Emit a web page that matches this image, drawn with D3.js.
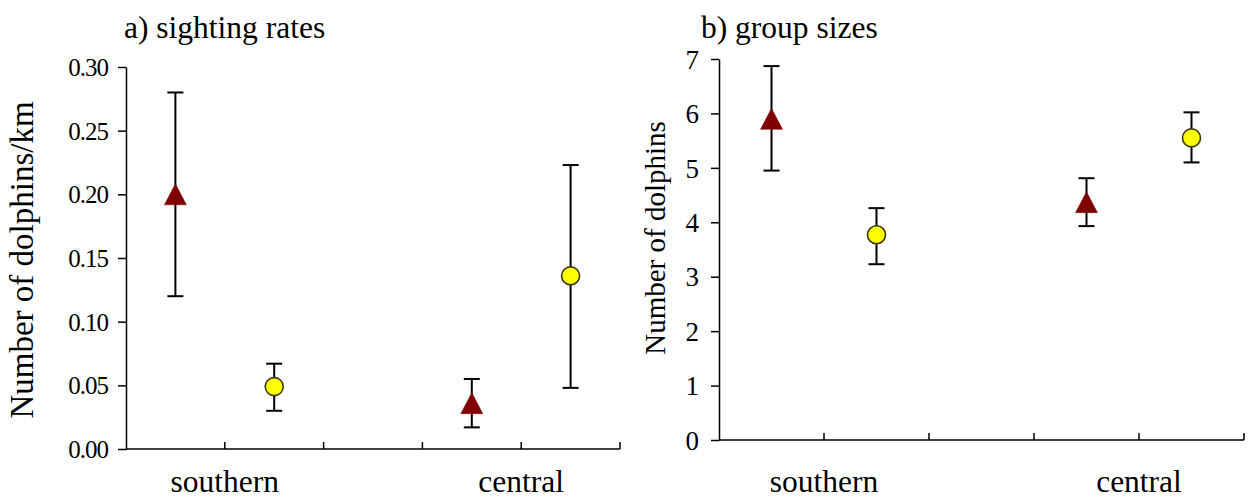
<!DOCTYPE html>
<html>
<head>
<meta charset="utf-8">
<script src="https://cdn.jsdelivr.net/npm/d3@7"></script>
<style>
  html, body { margin: 0; padding: 0; background: #fff; }
</style>
</head>
<body>
<svg id="chart" width="1250" height="498"></svg>
<script>
// Regions and the five x slots: two symbols per region with an empty slot between regions
const regions = ["southern", "central"];
const slots = ["southern|A", "southern|B", "gap", "central|A", "central|B"];

// a) sighting rates (dolphins/km): triangle series A, circle series B
const rateA   = [0.200, 0.036];
const rateALo = [0.120, 0.017];
const rateAHi = [0.280, 0.055];
const rateB   = [0.049, 0.136];
const rateBLo = [0.030, 0.048];
const rateBHi = [0.067, 0.223];
const rateTicks = [0, 0.05, 0.10, 0.15, 0.20, 0.25, 0.30];

// b) group sizes (number of dolphins)
const sizeA   = [5.90, 4.37];
const sizeALo = [4.95, 3.93];
const sizeAHi = [6.87, 4.81];
const sizeB   = [3.77, 5.55];
const sizeBLo = [3.23, 5.10];
const sizeBHi = [4.26, 6.02];
const sizeTicks = [0, 1, 2, 3, 4, 5, 6, 7];

const FONT = "'Liberation Serif', 'Times New Roman', Times, 'DejaVu Serif', serif";

const svg = d3.select("#chart");

function rows(mid, lo, hi, series) {
  return regions.map((r, i) => ({ slot: r + "|" + series, series, v: mid[i], lo: lo[i], hi: hi[i] }));
}

function panel(opts) {
  const x = d3.scaleBand().domain(slots).range(opts.xRange).paddingInner(0).paddingOuter(0);
  const y = d3.scaleLinear().domain(opts.yDomain).range(opts.yRange);
  const g = svg.append("g");

  // y axis: ticks outside
  const yAxis = g.append("g")
    .attr("transform", `translate(${opts.xRange[0]},0)`)
    .call(d3.axisLeft(y).tickValues(opts.ticks).tickFormat(opts.fmt).tickSizeInner(8).tickSizeOuter(0).tickPadding(opts.tickPad));
  yAxis.attr("font-family", null).attr("font-size", null);
  yAxis.select(".domain").attr("stroke", "#000").attr("stroke-width", 1.5);
  yAxis.selectAll(".tick line").attr("stroke", "#000").attr("stroke-width", 1.5);
  yAxis.selectAll(".tick text")
    .style("font-family", FONT)
    .style("font-size", opts.tickFont + "px")
    .style("letter-spacing", opts.tickSpacing + "px")
    .attr("fill", "#000")
    .attr("dy", "0.34em");

  // x axis: baseline with inward ticks at every slot boundary
  const x0 = opts.xRange[0], x1 = opts.xRange[1];
  const bounds = slots.map(s => x(s)).concat([x1]).slice(1);
  const bottom = opts.yRange[0];
  g.append("line").attr("x1", x0).attr("x2", x1).attr("y1", bottom).attr("y2", bottom)
    .attr("stroke", "#000").attr("stroke-width", 1.5);
  g.selectAll("line.xt").data(bounds).join("line").attr("class", "xt")
    .attr("x1", d => d).attr("x2", d => d).attr("y1", bottom).attr("y2", bottom - 7)
    .attr("stroke", "#000").attr("stroke-width", 1.5);

  // region labels sit on the boundary between each region's two slots
  g.selectAll("text.region").data(regions).join("text").attr("class", "region")
    .attr("x", r => x(r + "|B"))
    .attr("y", 492)
    .attr("text-anchor", "middle")
    .style("font-family", FONT)
    .style("font-size", "31.5px")
    .text(r => r);

  // panel title
  g.append("text").attr("x", opts.titleX).attr("y", 38)
    .style("font-family", FONT)
    .style("font-size", "31.5px").text(opts.title);

  // y axis title
  g.append("text")
    .attr("transform", `translate(${opts.yTitleX},${opts.yTitleY}) rotate(-90)`)
    .attr("text-anchor", "middle")
    .style("font-family", FONT)
    .style("font-size", opts.yTitleFont + "px")
    .text(opts.yTitle);

  const data = rows(opts.a, opts.aLo, opts.aHi, "A").concat(rows(opts.b, opts.bLo, opts.bHi, "B"));
  const cx = d => x(d.slot) + x.bandwidth() / 2;

  // error bars
  const eb = g.selectAll("g.eb").data(data).join("g").attr("class", "eb")
    .attr("stroke", "#000").attr("stroke-width", 2);
  eb.append("line").attr("x1", cx).attr("x2", cx).attr("y1", d => y(d.lo)).attr("y2", d => y(d.hi));
  eb.append("line").attr("x1", d => cx(d) - 8).attr("x2", d => cx(d) + 8).attr("y1", d => y(d.hi)).attr("y2", d => y(d.hi));
  eb.append("line").attr("x1", d => cx(d) - 8).attr("x2", d => cx(d) + 8).attr("y1", d => y(d.lo)).attr("y2", d => y(d.lo));

  // triangles (series A), centred on their bounding box
  const tw = 11, th = 10.5;
  g.selectAll("path.tri").data(data.filter(d => d.series === "A")).join("path").attr("class", "tri")
    .attr("d", d => {
      const px = cx(d), py = y(d.v);
      return `M${px},${py - th}L${px + tw},${py + th}L${px - tw},${py + th}Z`;
    })
    .attr("fill", "#800000").attr("stroke", "#800000").attr("stroke-width", 0.5);

  // circles (series B)
  g.selectAll("circle.pt").data(data.filter(d => d.series === "B")).join("circle").attr("class", "pt")
    .attr("cx", cx).attr("cy", d => y(d.v)).attr("r", 9)
    .attr("fill", "#ffff00").attr("stroke", "#3a3a00").attr("stroke-width", 1.6);
}

panel({
  xRange: [126, 620], yRange: [449, 67], yDomain: [0, 0.30], ticks: rateTicks,
  fmt: d3.format(".2f"), tickFont: 25, tickSpacing: -1, tickPad: 10,
  title: "a) sighting rates", titleX: 124,
  yTitle: "Number of dolphins/km", yTitleX: 33, yTitleY: 260, yTitleFont: 33,
  a: rateA, aLo: rateALo, aHi: rateAHi, b: rateB, bLo: rateBLo, bHi: rateBHi
});

panel({
  xRange: [719, 1244], yRange: [440, 59], yDomain: [0, 7], ticks: sizeTicks,
  fmt: d3.format("d"), tickFont: 27, tickSpacing: 0, tickPad: 12,
  title: "b) group sizes", titleX: 701,
  yTitle: "Number of dolphins", yTitleX: 665, yTitleY: 238, yTitleFont: 29,
  a: sizeA, aLo: sizeALo, aHi: sizeAHi, b: sizeB, bLo: sizeBLo, bHi: sizeBHi
});
</script>
</body>
</html>
